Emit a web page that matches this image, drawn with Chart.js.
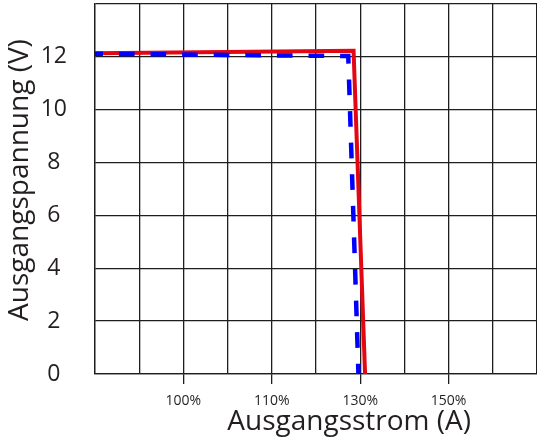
<!DOCTYPE html>
<html>
<head>
<meta charset="utf-8">
<script src="https://cdn.jsdelivr.net/npm/chart.js@4"></script>
<style>
  html, body { margin: 0; padding: 0; background: #fff; }
  #wrap { width: 537px; height: 444px; }
</style>
</head>
<body>
<div id="wrap"><canvas id="chart" width="537" height="444"></canvas></div>
<script>
// x runs over grid columns; only some columns carry a current label
const xTickLabels = ['', '', '100%', '', '110%', '', '130%', '', '150%', '', ''];
const yTicksShown = [0, 2, 4, 6, 8, 10, 12];

// dashed blue curve
const blueX = [0, 5.73, 5.96];
const blueY = [12.12, 12.03, 0];

// solid red curve
const redX = [0, 5.85, 6.11];
const redY = [12.14, 12.23, 0];

const TEXT = '#231f20';
const GRID = '#1e1e1e';
const FONT = '"Open Sans", "Noto Sans", sans-serif';

const toPoints = (xs, ys) => xs.map((x, i) => ({ x, y: ys[i] }));

// axis titles, drawn by hand so they can sit off-centre
const axisTitles = {
  id: 'axisTitles',
  afterDraw(chart) {
    const { ctx, chartArea } = chart;
    ctx.save();
    ctx.fillStyle = TEXT;
    ctx.font = '28px ' + FONT;
    ctx.textAlign = 'center';
    ctx.textBaseline = 'middle';
    ctx.fillText('Ausgangsstrom (A)', chartArea.left + (chartArea.right - chartArea.left) * 0.575, 422);
    ctx.translate(20, 180);
    ctx.rotate(-Math.PI / 2);
    ctx.fillText('Ausgangspannung (V)', 0, 0);
    ctx.restore();
  }
};

new Chart(document.getElementById('chart'), {
  type: 'line',
  data: {
    datasets: [
      {
        data: toPoints(blueX, blueY),
        borderColor: '#0000ff',
        borderWidth: 4.5,
        borderDash: [15.7, 15.9],
        borderDashOffset: 7.7,
        borderCapStyle: 'butt',
        pointRadius: 0,
        tension: 0
      },
      {
        data: toPoints(redX, redY),
        borderColor: '#e30613',
        borderWidth: 4,
        borderJoinStyle: 'miter',
        pointRadius: 0,
        tension: 0
      }
    ]
  },
  options: {
    responsive: false,
    animation: false,
    layout: { padding: { top: 4, right: 0, left: 0, bottom: 0 } },
    plugins: { legend: { display: false }, tooltip: { enabled: false } },
    scales: {
      x: {
        type: 'linear',
        min: 0,
        max: 10,
        afterFit: s => {
          s.height = 70;
          s.paddingLeft = 0;
          s.paddingRight = 0;
        },
        ticks: {
          stepSize: 1,
          autoSkip: false,
          maxRotation: 0,
          padding: 9,
          color: TEXT,
          font: { family: FONT, size: 14 },
          callback: v => xTickLabels[v] || ''
        },
        grid: {
          color: GRID,
          lineWidth: 1.3,
          tickLength: 10,
          tickColor: c => xTickLabels[c.index] ? GRID : 'rgba(0,0,0,0)'
        },
        border: { color: GRID, width: 1.3 }
      },
      y: {
        min: 0,
        max: 14,
        afterFit: s => {
          s.width = 95;
          s.paddingTop = 0;
          s.paddingBottom = 0;
        },
        ticks: {
          stepSize: 2,
          padding: 28,
          crossAlign: 'center',
          color: TEXT,
          font: { family: FONT, size: 23 },
          callback: v => yTicksShown.includes(v) ? String(v) : ''
        },
        grid: { color: GRID, lineWidth: 1.3, drawTicks: false },
        border: { color: GRID, width: 1.3 }
      }
    }
  },
  plugins: [axisTitles]
});
</script>
</body>
</html>
